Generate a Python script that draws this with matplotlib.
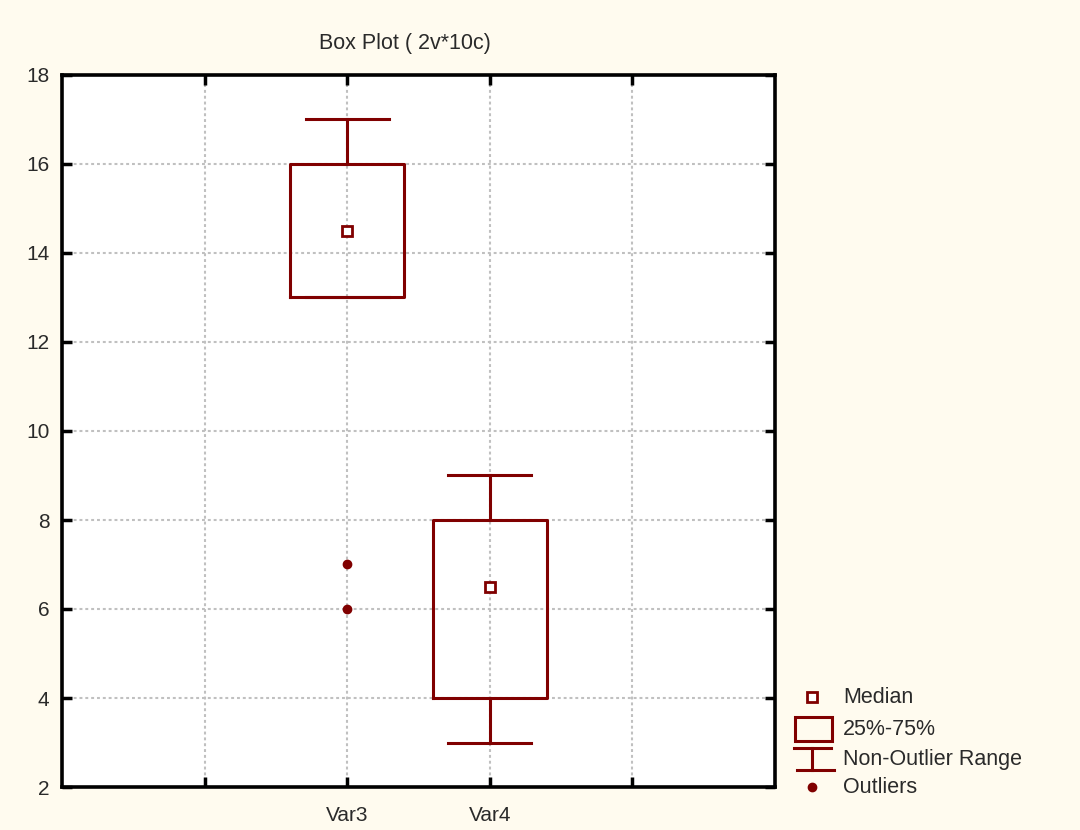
import matplotlib.pyplot as plt
from matplotlib.lines import Line2D
from matplotlib.patches import Rectangle

plt.rcParams['font.family'] = ['Liberation Sans', 'DejaVu Sans']

# values
labels = ['Var3', 'Var4']
positions = [2, 3]
medians = [14.5, 6.5]
q1 = [13, 4]
q3 = [16, 8]
whis_lo = [13, 3]
whis_hi = [17, 9]
outliers = [[7, 6], []]

dark_red = '#800000'
bg = '#fffbef'
txt = '#2a2a2a'
lw = 2.2

fig = plt.figure(figsize=(10.8, 8.3), dpi=100, facecolor=bg)
ax = fig.add_axes([62 / 1080, 1 - 787 / 830, (775 - 62) / 1080, (787 - 75) / 830])
ax.set_facecolor('white')

stats = []
for i in range(len(labels)):
    stats.append({'label': labels[i], 'med': medians[i], 'q1': q1[i], 'q3': q3[i],
                  'whislo': whis_lo[i], 'whishi': whis_hi[i], 'fliers': []})

ax.bxp(stats, positions=positions, widths=0.8, capwidths=0.58, showfliers=False,
       boxprops=dict(color=dark_red, linewidth=lw),
       whiskerprops=dict(color=dark_red, linewidth=lw),
       capprops=dict(color=dark_red, linewidth=lw),
       medianprops=dict(linewidth=0))

# median squares
ax.plot(positions, medians, linestyle='none', marker='s', markersize=7,
        markerfacecolor='white', markeredgecolor=dark_red, markeredgewidth=2)

# outliers
for p, outs in zip(positions, outliers):
    if outs:
        ax.plot([p] * len(outs), outs, linestyle='none', marker='o', markersize=6,
                markerfacecolor=dark_red, markeredgecolor=dark_red)

ax.set_xlim(0, 5)
ax.set_ylim(2, 18)
ax.set_xticks([1, 2, 3, 4])
ax.set_xticklabels(['', 'Var3', 'Var4', ''])
ax.set_yticks(range(2, 19, 2))
ax.grid(True, color='#c0c0c0', linestyle=(0, (1.4, 1.4)), linewidth=1.5)
ax.tick_params(direction='in', length=7, width=2.5, labelsize=15, top=True, right=True,
               colors='black', labelcolor=txt)
ax.tick_params(axis='x', pad=14)
ax.tick_params(axis='y', pad=9)
for s in ax.spines.values():
    s.set_linewidth(2.6)
    s.set_color('black')

fig.text(405 / 1080, 1 - 44 / 830, 'Box Plot ( 2v*10c)', ha='center', va='center',
         fontsize=15.5, color=txt)

# legend drawn in pixel coordinates
lg = fig.add_axes([0, 0, 1, 1], facecolor='none')
lg.set_xlim(0, 1080)
lg.set_ylim(830, 0)
lg.axis('off')
lg.plot([812], [697], marker='s', markersize=7, markerfacecolor='white',
        markeredgecolor=dark_red, markeredgewidth=2, linestyle='none')
lg.add_patch(Rectangle((795, 717), 37, 24, fill=False, edgecolor=dark_red, linewidth=lw))
lg.add_line(Line2D([794, 831], [748, 748], color=dark_red, linewidth=lw))
lg.add_line(Line2D([812, 812], [748, 770], color=dark_red, linewidth=lw))
lg.add_line(Line2D([797, 834], [770, 770], color=dark_red, linewidth=lw))
lg.plot([812], [787], marker='o', markersize=6, color=dark_red, linestyle='none')
legend_texts = ['Median', '25%-75%', 'Non-Outlier Range', 'Outliers']
legend_y = [697, 729, 759, 787]
for t, y in zip(legend_texts, legend_y):
    lg.text(843, y, t, ha='left', va='center', fontsize=15.5, color=txt)

fig.savefig('out.png', dpi=100, facecolor=bg)
